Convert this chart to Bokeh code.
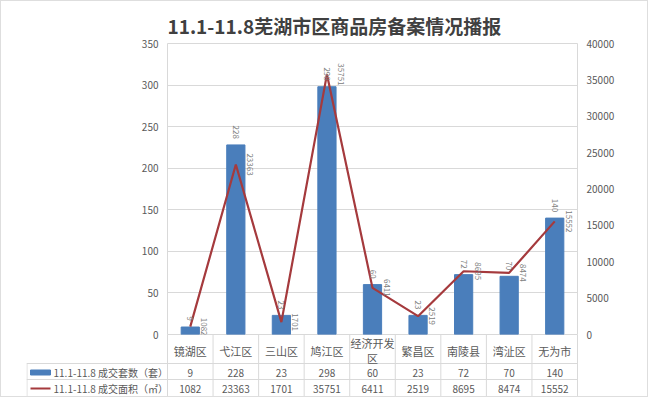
import math
from bokeh.plotting import figure
from bokeh.models import Range1d, LinearAxis, FactorRange, ColumnDataSource, FixedTicker
from bokeh.layouts import column
from bokeh.embed import file_html
from bokeh.resources import INLINE
from bokeh.core.properties import value

# ---------------- data ----------------
title_text = "11.1-11.8芜湖市区商品房备案情况播报"
categories = ["镜湖区", "弋江区", "三山区", "鸠江区", "经济开发区", "繁昌区", "南陵县", "湾沚区", "无为市"]
category_labels = ["镜湖区", "弋江区", "三山区", "鸠江区", "经济开发\n区", "繁昌区", "南陵县", "湾沚区", "无为市"]
counts = [9, 228, 23, 298, 60, 23, 72, 70, 140]
areas = [1082, 23363, 1701, 35751, 6411, 2519, 8695, 8474, 15552]
series_names = ["11.1-11.8 成交套数（套）", "11.1-11.8 成交面积（㎡）"]
left_ticks = [0, 50, 100, 150, 200, 250, 300, 350]
right_ticks = [0, 5000, 10000, 15000, 20000, 25000, 30000, 35000, 40000]

# ---------------- style ----------------
FONT = "Noto Sans CJK SC"
BAR = "#4a7ebb"
LINE = "#a53a3d"
GRID = "#d9d9d9"
TXT = "#595959"
LBL = "#808080"

W = 646
LEFT = 166
RIGHT = 70
TOP = 42
BOTTOM = 7
HA = 340
HB = 62

src = ColumnDataSource(dict(
    cat=categories, count=counts, area=areas,
    count_txt=[str(v) for v in counts], area_txt=[str(v) for v in areas],
))

p = figure(width=W, height=HA, x_range=FactorRange(factors=categories),
           y_range=Range1d(left_ticks[0], left_ticks[-1]),
           output_backend="svg", toolbar_location=None, x_axis_location=None,
           min_border_left=LEFT, min_border_right=RIGHT, min_border_top=TOP,
           min_border_bottom=BOTTOM, frame_align=False)
p.extra_y_ranges = {"area": Range1d(right_ticks[0], right_ticks[-1])}

p.title.text = title_text
p.title.align = "left"
p.title.text_font = FONT
p.title.text_font_size = "19px"
p.title.text_font_style = "bold"
p.title.text_color = "#404040"
p.title.standoff = 10

p.vbar(x="cat", top="count", width=0.4, source=src, color=BAR)
p.line(x="cat", y="area", y_range_name="area", source=src, line_color=LINE, line_width=2.2)

p.text(x="cat", y="count", text="count_txt", source=src, angle=-math.pi / 2,
       text_align="right", text_baseline="middle", y_offset=-6,
       text_font=value(FONT), text_font_size="8px", text_color=LBL)
p.text(x="cat", y="area", text="area_txt", source=src, y_range_name="area",
       angle=-math.pi / 2, text_align="center", text_baseline="middle", x_offset=14,
       text_font=value(FONT), text_font_size="8px", text_color=LBL)

p.yaxis.ticker = FixedTicker(ticks=left_ticks)
right_axis = LinearAxis(y_range_name="area", ticker=FixedTicker(ticks=right_ticks))
p.add_layout(right_axis, "right")
for ax in p.yaxis:
    ax.axis_line_color = None
    ax.major_tick_line_color = None
    ax.minor_tick_line_color = None
    ax.major_tick_out = 0
    ax.major_tick_in = 0
    ax.minor_tick_out = 0
    ax.major_label_text_font = FONT
    ax.major_label_text_font_size = "10px"
    ax.major_label_text_color = TXT
    ax.major_label_standoff = 9

p.ygrid.ticker = FixedTicker(ticks=left_ticks)
p.ygrid.grid_line_color = GRID
p.xgrid.visible = False
p.outline_line_color = GRID
p.background_fill_color = "white"

# ---------------- data table below ----------------
n = len(categories)
col_w = (W - LEFT - RIGHT) / n
TL = 25  # table left border (figure px)
TR = 69
x_lo = -(LEFT - TL) / col_w
x_hi = x_lo + (W - TL - TR) / col_w

t = figure(width=W, height=HB, x_range=Range1d(x_lo, x_hi), y_range=Range1d(0, HB),
           output_backend="svg", toolbar_location=None, x_axis_location=None,
           y_axis_location=None, min_border_left=TL, min_border_right=TR,
           min_border_top=0, min_border_bottom=0, frame_align=False)
t.grid.visible = False
t.outline_line_color = None
t.background_fill_alpha = 0
t.border_fill_alpha = 0
t.margin = (-BOTTOM, 0, 0, 0)

row1_top = 33
row2_top = 17
y_cat, y_r1, y_r2 = 46, 24, 8
xs = [i + 0.5 for i in range(n)]
# vertical lines
t.segment(x0=list(range(n + 1)), y0=[0] * (n + 1), x1=list(range(n + 1)), y1=[HB] * (n + 1),
          line_color=GRID, line_width=1)
t.segment(x0=[x_lo + 0.01], y0=[0], x1=[x_lo + 0.01], y1=[row1_top], line_color=GRID)
# horizontal lines
t.segment(x0=[x_lo] * 2, y0=[row1_top, row2_top], x1=[n] * 2, y1=[row1_top, row2_top],
          line_color=GRID)

t.text(x=xs, y=[y_cat] * n, text=category_labels, text_align="center", text_baseline="middle",
       text_font=value(FONT), text_font_size="11px", text_color=TXT, text_line_height=0.95)
t.text(x=xs, y=[y_r1] * n, text=[str(v) for v in counts], text_align="center",
       text_baseline="middle", text_font=value(FONT), text_font_size="10px", text_color=TXT)
t.text(x=xs, y=[y_r2] * n, text=[str(v) for v in areas], text_align="center",
       text_baseline="middle", text_font=value(FONT), text_font_size="10px", text_color=TXT)

def px(v):
    return (v - 167) / col_w

t.rect(x=[px(40)], y=[y_r1], width=20, height=5, width_units="screen", height_units="screen",
       color=BAR)
t.segment(x0=[px(30)], y0=[y_r2], x1=[px(50)], y1=[y_r2], line_color=LINE, line_width=2)
t.text(x=[px(53)] * 2, y=[y_r1, y_r2], text=series_names, text_align="left",
       text_baseline="middle", text_font=value(FONT), text_font_size="10px", text_color=TXT)

layout = column(p, t, spacing=0, styles={"border": "1px solid #dedede"})
open("out.html", "w").write(file_html(layout, INLINE))
